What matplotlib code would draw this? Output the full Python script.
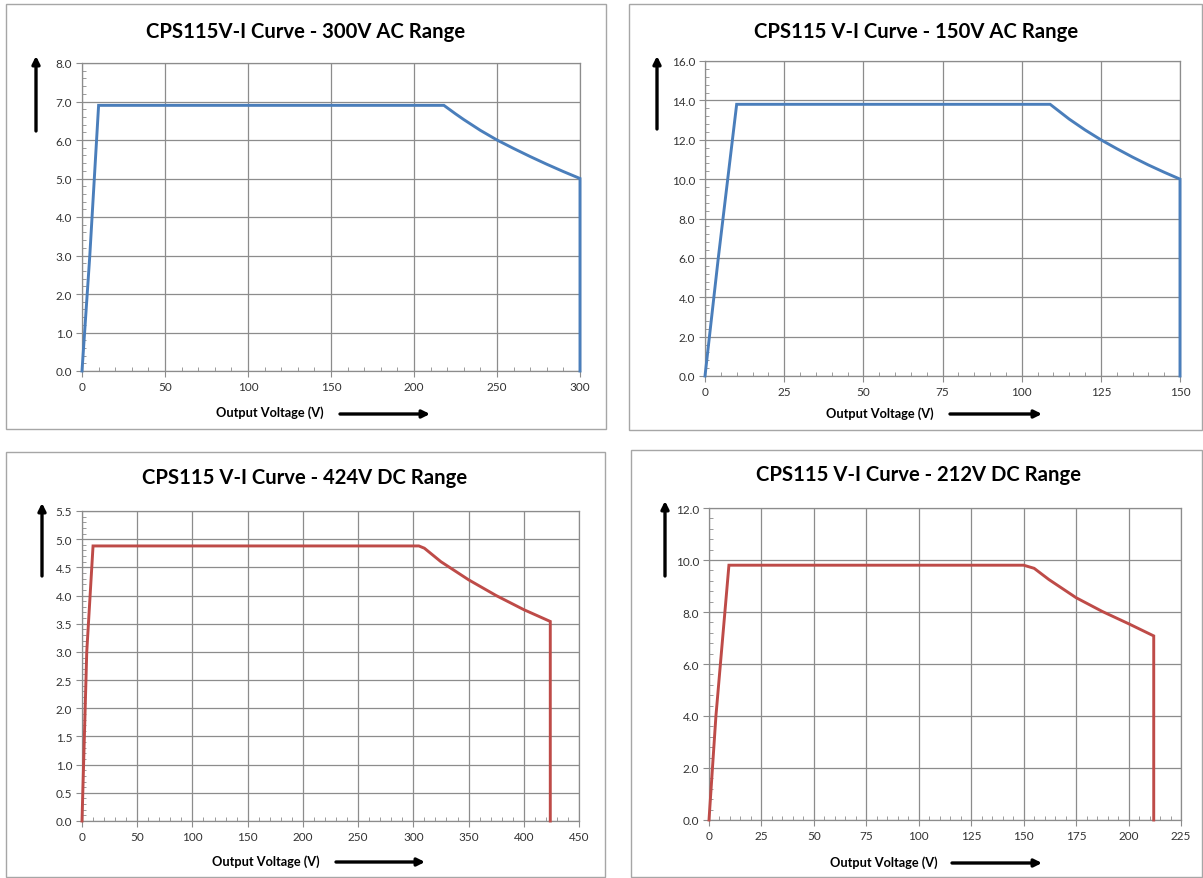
import matplotlib
matplotlib.use("Agg")
import matplotlib.pyplot as plt
from matplotlib.patches import FancyArrowPatch, Rectangle
from matplotlib.ticker import MultipleLocator, FormatStrFormatter

W, H = 1203, 879
BLUE = "#4a7ebb"
RED = "#be4b48"
GRID = "#8c8c8c"

plt.rcParams["font.family"] = ["Lato", "DejaVu Sans"]

# 300V AC range
ac300_v = [0, 4.7, 10, 218, 225, 230, 240, 250, 260, 270, 280, 290, 300, 300]
ac300_i = [0, 3.0, 6.9, 6.9, 6.68, 6.53, 6.25, 6.0, 5.78, 5.57, 5.37, 5.18, 5.0, 0]

# 150V AC range
ac150_v = [0, 4.2, 10, 109, 115, 120, 125, 130, 135, 140, 145, 150, 150]
ac150_i = [0, 6.0, 13.8, 13.8, 13.05, 12.5, 12.0, 11.55, 11.12, 10.72, 10.35, 10.0, 0]

# 424V DC range
dc424_v = [0, 4.3, 10, 305, 310, 325, 350, 375, 400, 424, 424]
dc424_i = [0, 3.0, 4.88, 4.88, 4.84, 4.6, 4.28, 4.0, 3.75, 3.54, 0]

# 212V DC range
dc212_v = [0, 3.3, 9.5, 150, 155, 162, 175, 187.5, 200, 212, 212]
dc212_i = [0, 4.0, 9.8, 9.8, 9.68, 9.25, 8.55, 8.02, 7.55, 7.08, 0]


def fx(x):
    return x / W


def fy(y):
    return 1 - y / H


def arrow(fig, p1, p2, lw=2.4, ms=11):
    fig.add_artist(FancyArrowPatch(
        (fx(p1[0]), fy(p1[1])), (fx(p2[0]), fy(p2[1])),
        transform=fig.transFigure, arrowstyle="-|>", mutation_scale=ms,
        linewidth=lw, color="black", shrinkA=0, shrinkB=0))


def panel(fig, v, i, color, title, box, frame, xmax, xmaj, ymax, ymaj,
          title_xy, xlab_xy, xarrow, yarrow):
    x0, x1, yt, yb = box
    ax = fig.add_axes([fx(x0), fy(yb), fx(x1) - fx(x0), fy(yt) - fy(yb)])
    ax.plot(v, i, color=color, lw=2.1, solid_joinstyle="miter", clip_on=False, zorder=3)
    ax.set_xlim(0, xmax)
    ax.set_ylim(0, ymax)
    ax.xaxis.set_major_locator(MultipleLocator(xmaj))
    ax.xaxis.set_minor_locator(MultipleLocator(xmaj / 5))
    ax.yaxis.set_major_locator(MultipleLocator(ymaj))
    ax.yaxis.set_minor_locator(MultipleLocator(ymaj / 5))
    ax.yaxis.set_major_formatter(FormatStrFormatter("%.1f"))
    ax.grid(True, which="major", color=GRID, lw=0.9)
    ax.set_axisbelow(True)
    for s in ax.spines.values():
        s.set_color(GRID)
        s.set_linewidth(0.9)
    ax.tick_params(which="major", direction="out", length=4, color=GRID,
                   labelsize=8.5, labelcolor="#333333", pad=3)
    ax.tick_params(which="minor", direction="in", length=3, color=GRID)

    # panel frame
    fl, fr, ft, fb = frame
    fig.add_artist(Rectangle((fx(fl), fy(fb)), fx(fr) - fx(fl), fy(ft) - fy(fb),
                             transform=fig.transFigure, fill=False,
                             edgecolor="#a6a6a6", lw=1.0))
    fig.text(fx(title_xy[0]), fy(title_xy[1]), title, ha="center", va="center",
             fontsize=14.6, fontweight="bold")
    fig.text(fx(xlab_xy[0]), fy(xlab_xy[1]), "Output Voltage (V)", ha="center",
             va="center", fontsize=9.2, fontweight="bold")
    arrow(fig, xarrow[0], xarrow[1])
    arrow(fig, yarrow[0], yarrow[1])
    return ax


fig = plt.figure(figsize=(W / 100, H / 100), dpi=100)

panel(fig, ac300_v, ac300_i, BLUE, "CPS115V-I Curve - 300V AC Range",
      (82, 580, 64, 372), (6, 606, 5, 430), 300, 50, 8.0, 1.0,
      (306, 32), (270, 413), ((340, 415), (430, 415)), ((36, 132), (36, 57)))

panel(fig, ac150_v, ac150_i, BLUE, "CPS115 V-I Curve - 150V AC Range",
      (705, 1180, 62, 377), (629, 1202, 5, 431), 150, 25, 16.0, 2.0,
      (916, 32), (880, 414), ((950, 415), (1042, 415)), ((657, 130), (657, 57)))

panel(fig, dc424_v, dc424_i, RED, "CPS115 V-I Curve - 424V DC Range",
      (82, 579, 512, 822), (6, 605, 453, 878), 450, 50, 5.5, 0.5,
      (305, 478), (266, 862), ((336, 863), (425, 863)), ((42, 577), (42, 504)))

panel(fig, dc212_v, dc212_i, RED, "CPS115 V-I Curve - 212V DC Range",
      (709, 1181, 509, 821), (631, 1202, 451, 878), 225, 25, 12.0, 2.0,
      (918, 475), (884, 863), ((952, 864), (1042, 864)), ((665, 577), (665, 502)))

fig.savefig("out.png", dpi=100)
